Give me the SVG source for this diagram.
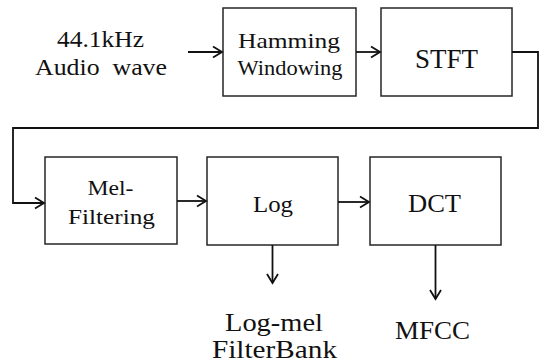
<svg xmlns="http://www.w3.org/2000/svg" width="539" height="363" viewBox="0 0 539 363">
<style>
  .box { fill: #ffffff; stroke: #262626; stroke-width: 1.5; }
  .t { fill: #111111; text-anchor: middle; font-family: 'Liberation Serif', 'Times New Roman', serif; }
  .conn { fill: none; stroke: #111111; stroke-width: 1.8; }
</style>
<defs>
  <marker id="ah" markerWidth="12" markerHeight="14" refX="10" refY="7" orient="auto" markerUnits="userSpaceOnUse">
    <path d="M1,1.5 L10,7 L1,12.5" fill="none" stroke="#111111" stroke-width="1.8"/>
  </marker>
</defs>
<rect width="539" height="363" fill="#ffffff"/>

<g id="input">
  <text class="t" x="100.5" y="47" font-size="23" textLength="87" lengthAdjust="spacingAndGlyphs">44.1kHz</text>
  <text class="t" x="101" y="75" font-size="23" textLength="132" lengthAdjust="spacingAndGlyphs" xml:space="preserve">Audio  wave</text>
</g>

<g id="hamming">
  <rect class="box" x="223" y="8" width="133" height="88"/>
  <text class="t" x="289" y="48" font-size="21" textLength="102" lengthAdjust="spacingAndGlyphs">Hamming</text>
  <text class="t" x="290" y="75" font-size="21" textLength="105" lengthAdjust="spacingAndGlyphs">Windowing</text>
</g>

<g id="stft">
  <rect class="box" x="381" y="8" width="131" height="88"/>
  <text class="t" x="446.5" y="68" font-size="27" textLength="63" lengthAdjust="spacingAndGlyphs">STFT</text>
</g>

<g id="mel">
  <rect class="box" x="45" y="157" width="132" height="87"/>
  <text class="t" x="110.5" y="195" font-size="21" textLength="46" lengthAdjust="spacingAndGlyphs">Mel-</text>
  <text class="t" x="111.5" y="224" font-size="21" textLength="87" lengthAdjust="spacingAndGlyphs">Filtering</text>
</g>

<g id="log">
  <rect class="box" x="207" y="157" width="131" height="88"/>
  <text class="t" x="273" y="212" font-size="24" textLength="40" lengthAdjust="spacingAndGlyphs">Log</text>
</g>

<g id="dct">
  <rect class="box" x="370" y="157" width="131" height="88"/>
  <text class="t" x="434.5" y="212" font-size="26" textLength="53" lengthAdjust="spacingAndGlyphs">DCT</text>
</g>

<g id="logmel">
  <text class="t" x="274" y="331" font-size="26" textLength="98" lengthAdjust="spacingAndGlyphs">Log-mel</text>
  <text class="t" x="274.5" y="358" font-size="26" textLength="125" lengthAdjust="spacingAndGlyphs">FilterBank</text>
</g>

<g id="mfcc">
  <text class="t" x="432.5" y="339" font-size="26" textLength="75" lengthAdjust="spacingAndGlyphs">MFCC</text>
</g>

<g id="connectors">
  <path class="conn" d="M188,52 L222,52" marker-end="url(#ah)"/>
  <path class="conn" d="M356,52 L380,52" marker-end="url(#ah)"/>
  <path class="conn" d="M512,52 L538,52 L538,128 L13,128 L13,203 L44,203" marker-end="url(#ah)"/>
  <path class="conn" d="M177,201 L206,201" marker-end="url(#ah)"/>
  <path class="conn" d="M338,202 L369,202" marker-end="url(#ah)"/>
  <path class="conn" d="M272.5,245 L272.5,283" marker-end="url(#ah)"/>
  <path class="conn" d="M435.5,245 L435.5,299" marker-end="url(#ah)"/>
</g>
</svg>
